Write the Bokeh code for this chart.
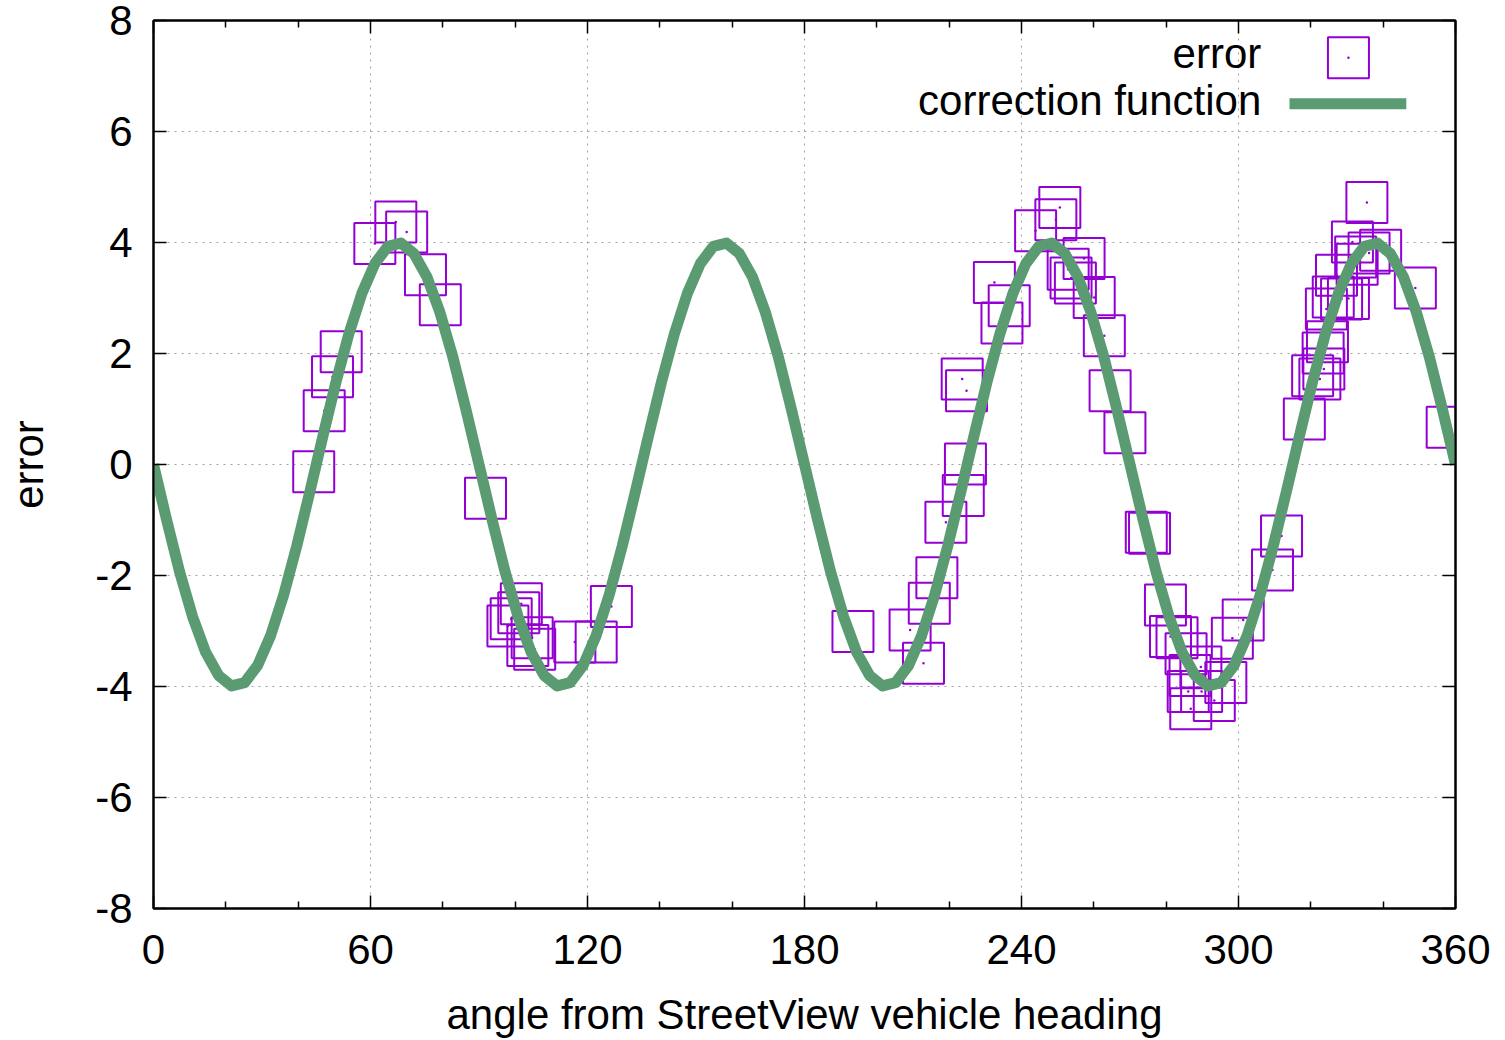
from bokeh.plotting import figure
from bokeh.models import Range1d, FixedTicker, LinearAxis
from bokeh.embed import file_html
from bokeh.resources import INLINE
from bokeh.core.properties import value

# ---- data ----
angle = [44.3, 47.2, 49.5, 51.9, 61.2, 67.0, 70.0, 75.2, 79.3, 91.8,
         98.0, 98.9, 101.0, 101.7, 103.5, 104.7, 105.4, 116.5, 122.4, 126.6,
         193.4, 209.2, 212.9, 214.5, 216.6, 219.1, 223.9, 224.5, 223.6, 224.8,
         232.5, 234.6, 236.6, 243.9, 249.5, 250.6, 252.9, 253.7, 254.9, 257.3,
         260.1, 262.9, 264.5, 268.6,
         274.5, 275.4, 279.8, 281.2, 283.0, 285.5, 286.6, 286.1, 286.8, 289.6,
         289.8, 293.3, 296.5, 298.3, 301.3, 309.4, 311.9,
         318.2, 320.5, 322.5, 323.6, 323.4, 324.6, 324.3, 326.2, 328.5, 330.4,
         327.1, 332.8, 332.4, 336.1, 339.3, 331.5, 335.5, 348.9, 357.7]
error = [-0.13, 0.97, 1.58, 2.03, 3.98, 4.37, 4.19, 3.42, 2.88, -0.61,
         -2.91, -2.78, -2.67, -2.51, -3.26, -3.12, -3.33, -3.20, -3.20, -2.56,
         -3.01, -2.98, -3.58, -2.50, -2.04, -1.04, -0.56, 0.01, 1.54, 1.33,
         3.28, 2.55, 2.86, 4.21, 4.41, 4.63, 3.52, 3.36, 3.27, 3.71,
         3.01, 2.32, 1.33, 0.57,
         -1.22, -1.24, -2.53, -3.10, -3.12, -3.41, -3.80, -4.09, -4.40, -3.65,
         -4.09, -4.25, -3.93, -3.13, -2.80, -1.90, -1.29,
         0.82, 1.60, 1.54, 1.72, 2.01, 2.21, 2.80, 3.02, 2.98, 2.99,
         3.41, 3.61, 3.74, 3.81, 3.86, 4.01, 4.72, 3.18, 0.67]

curve_x = [0.0, 3.6, 7.2, 10.8, 14.4, 18.0, 21.6, 25.2, 28.8, 32.4,
           36.0, 39.6, 43.2, 46.8, 50.4, 54.0, 57.6, 61.2, 64.8, 68.4,
           72.0, 75.6, 79.2, 82.8, 86.4, 90.0, 93.6, 97.2, 100.8, 104.4,
           108.0, 111.6, 115.2, 118.8, 122.4, 126.0, 129.6, 133.2, 136.8, 140.4,
           144.0, 147.6, 151.2, 154.8, 158.4, 162.0, 165.6, 169.2, 172.8, 176.4,
           180.0, 183.6, 187.2, 190.8, 194.4, 198.0, 201.6, 205.2, 208.8, 212.4,
           216.0, 219.6, 223.2, 226.8, 230.4, 234.0, 237.6, 241.2, 244.8, 248.4,
           252.0, 255.6, 259.2, 262.8, 266.4, 270.0, 273.6, 277.2, 280.8, 284.4,
           288.0, 291.6, 295.2, 298.8, 302.4, 306.0, 309.6, 313.2, 316.8, 320.4,
           324.0, 327.6, 331.2, 334.8, 338.4, 342.0, 345.6, 349.2, 352.8, 356.4, 360.0]
curve_y = [0.00, -0.99, -1.93, -2.74, -3.38, -3.80, -3.99, -3.93, -3.62, -3.08,
           -2.35, -1.47, -0.50, 0.50, 1.47, 2.35, 3.08, 3.62, 3.93, 3.99,
           3.80, 3.38, 2.74, 1.93, 0.99,
           0.00, -0.99, -1.93, -2.74, -3.38, -3.80, -3.99, -3.93, -3.62, -3.08,
           -2.35, -1.47, -0.50, 0.50, 1.47, 2.35, 3.08, 3.62, 3.93, 3.99,
           3.80, 3.38, 2.74, 1.93, 0.99,
           0.00, -0.99, -1.93, -2.74, -3.38, -3.80, -3.99, -3.93, -3.62, -3.08,
           -2.35, -1.47, -0.50, 0.50, 1.47, 2.35, 3.08, 3.62, 3.93, 3.99,
           3.80, 3.38, 2.74, 1.93, 0.99,
           0.00, -0.99, -1.93, -2.74, -3.38, -3.80, -3.99, -3.93, -3.62, -3.08,
           -2.35, -1.47, -0.50, 0.50, 1.47, 2.35, 3.08, 3.62, 3.93, 3.99,
           3.80, 3.38, 2.74, 1.93, 0.99,
           0.00]

x_ticks = [0, 60, 120, 180, 240, 300, 360]
x_minor = [20, 40, 80, 100, 140, 160, 200, 220, 260, 280, 320, 340]
y_ticks = [-8, -6, -4, -2, 0, 2, 4, 6, 8]
y_tick_labels = ["-8", "-6", "-4", "-2", "0", "2", "4", "6", "8"]
legend_labels = ["error", "correction function"]

PURPLE = "#9400d3"
GREEN = "#5a9b72"
FONT = "Liberation Sans"
FS = "42px"

p = figure(width=1505, height=1040, x_range=Range1d(0, 360), y_range=Range1d(-8, 8),
           output_backend="svg", toolbar_location=None,
           min_border_left=153, min_border_right=50, min_border_top=20, min_border_bottom=131)
p.background_fill_color = "white"
p.border_fill_color = "white"
p.outline_line_color = "black"
p.outline_line_width = 2

bottom = p.below[0]
left = p.left[0]

bottom.ticker = FixedTicker(ticks=x_ticks, minor_ticks=x_minor)
left.ticker = FixedTicker(ticks=y_ticks, minor_ticks=[])
left.major_label_overrides = {t: s for t, s in zip(y_ticks, y_tick_labels)}
bottom.axis_label = "angle from StreetView vehicle heading"
left.axis_label = "error"

top = LinearAxis(ticker=FixedTicker(ticks=x_ticks, minor_ticks=x_minor))
right = LinearAxis(ticker=FixedTicker(ticks=y_ticks, minor_ticks=[]))
top.major_label_overrides = {t: "" for t in x_ticks}
right.major_label_overrides = {t: "" for t in y_ticks}
for ax in (top, right):
    ax.major_label_text_font_size = "1px"
    ax.major_label_text_color = None
    ax.major_label_standoff = 0
p.add_layout(top, "above")
p.add_layout(right, "right")

for ax in (bottom, left, top, right):
    ax.axis_line_color = "black"
    ax.axis_line_width = 2
    ax.major_tick_in = 13
    ax.major_tick_out = 0
    ax.minor_tick_in = 7
    ax.minor_tick_out = 0
    ax.major_tick_line_color = "black"
    ax.major_tick_line_width = 1.5
    ax.minor_tick_line_color = "black"
    ax.minor_tick_line_width = 1.5

for ax in (bottom, left):
    ax.major_label_text_font = FONT
    ax.major_label_text_font_size = FS
    ax.major_label_text_color = "black"
    ax.axis_label_text_font = FONT
    ax.axis_label_text_font_size = FS
    ax.axis_label_text_font_style = "normal"
    ax.axis_label_text_color = "black"

bottom.major_label_standoff = 26
bottom.axis_label_standoff = 24
left.major_label_standoff = 21
left.axis_label_standoff = 40

p.xgrid.ticker = FixedTicker(ticks=[60, 120, 180, 240, 300])
p.ygrid.ticker = FixedTicker(ticks=[-6, -4, -2, 0, 2, 4, 6])
p.grid.grid_line_color = "#a0a0a0"
p.grid.grid_line_dash = "2 5"
p.grid.grid_line_width = 1

# data points
p.scatter(angle, error, marker="square", size=41, fill_color=None,
          line_color=PURPLE, line_width=2)
p.scatter(angle, error, marker="circle", size=2.5, fill_color=PURPLE, line_color=None)

# correction function
p.line(curve_x, curve_y, line_color=GREEN, line_width=11, line_join="round")

# legend (gnuplot style: text right-aligned, sample on the right)
p.text(x=[306.3, 306.3], y=[7.40, 6.56], text=legend_labels,
       text_align="right", text_baseline="alphabetic",
       text_font=value(FONT), text_font_size=FS, text_color="black")
p.scatter([330.4], [7.33], marker="square", size=41, fill_color=None,
          line_color=PURPLE, line_width=2)
p.scatter([330.4], [7.33], marker="circle", size=2.5, fill_color=PURPLE, line_color=None)
p.line([314.1, 346.4], [6.50, 6.50], line_color=GREEN, line_width=11)

open("out.html", "w").write(file_html(p, INLINE))
